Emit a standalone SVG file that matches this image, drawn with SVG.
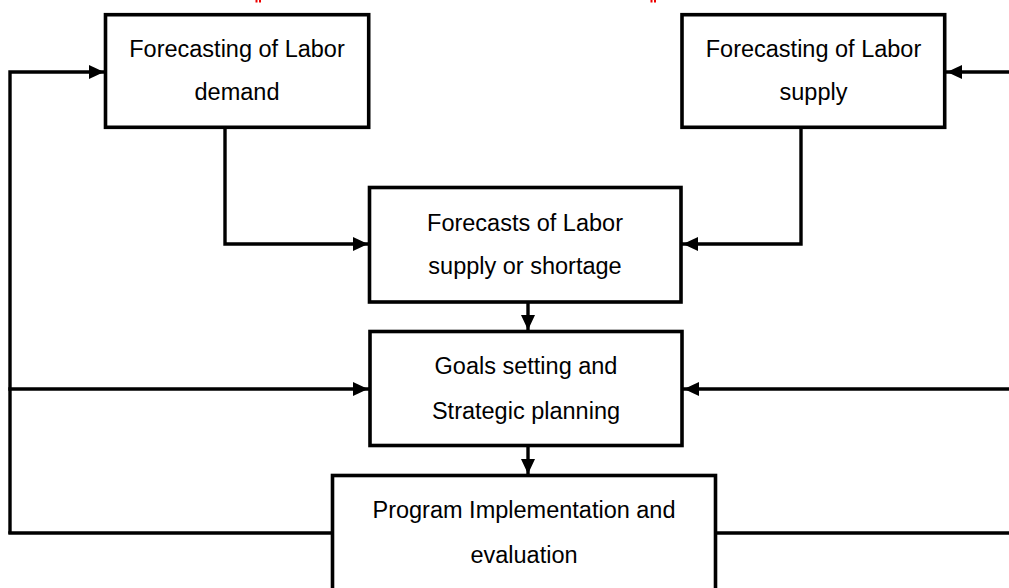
<svg xmlns="http://www.w3.org/2000/svg" width="1009" height="588" viewBox="0 0 1009 588">
<style>
.box{fill:#fff;stroke:#000;stroke-width:3.6}
.ln{fill:none;stroke:#000;stroke-width:3.4;stroke-linejoin:miter;stroke-linecap:square}
.t{font-family:"Liberation Sans",Arial,Helvetica,sans-serif;font-size:23.5px;fill:#000;text-anchor:middle}
</style>
<defs>
<marker id="ah" markerUnits="userSpaceOnUse" markerWidth="15" markerHeight="14" refX="15" refY="7" orient="auto">
<path d="M0,0 L15,7 L0,14 z" fill="#000"/>
</marker>
</defs>
<rect width="1009" height="588" fill="#fff"/>
<g id="red-marks" fill="#e00">
<rect x="255.5" y="0" width="2" height="2.5"/>
<rect x="259" y="0" width="2" height="2.5"/>
<rect x="650.5" y="0" width="2" height="2.5"/>
<rect x="654" y="0" width="2" height="2.5"/>
</g>
<g id="connectors">
<path class="ln" d="M10,532 L10,72 L104,72" marker-end="url(#ah)"/>
<path class="ln" d="M10,389 L368,389" marker-end="url(#ah)"/>
<path class="ln" d="M332,533 L10,533"/>
<path class="ln" d="M1012,72 L947,72" marker-end="url(#ah)"/>
<path class="ln" d="M1012,389 L684,389" marker-end="url(#ah)"/>
<path class="ln" d="M716,533 L1012,533"/>
<path class="ln" d="M225,127 L225,244 L368,244" marker-end="url(#ah)"/>
<path class="ln" d="M801,127 L801,244 L683,244" marker-end="url(#ah)"/>
<path class="ln" d="M528,302 L528,330" marker-end="url(#ah)"/>
<path class="ln" d="M528,446 L528,474" marker-end="url(#ah)"/>
</g>
<g id="demand">
<rect class="box" x="105.5" y="14.7" width="263.2" height="112.6"/>
<text class="t" x="237" y="57">Forecasting of Labor</text>
<text class="t" x="237" y="100">demand</text>
</g>
<g id="supply">
<rect class="box" x="682" y="14.7" width="262.7" height="112.6"/>
<text class="t" x="813.5" y="57">Forecasting of Labor</text>
<text class="t" x="813.5" y="100">supply</text>
</g>
<g id="forecasts">
<rect class="box" x="369.5" y="187.5" width="311.5" height="114.5"/>
<text class="t" x="525" y="230.5">Forecasts of Labor</text>
<text class="t" x="525" y="274">supply or shortage</text>
</g>
<g id="goals">
<rect class="box" x="370" y="331.5" width="312" height="114"/>
<text class="t" x="526" y="374">Goals setting and</text>
<text class="t" x="526" y="418.5">Strategic planning</text>
</g>
<g id="program">
<rect class="box" x="332.5" y="475.5" width="383" height="130"/>
<text class="t" x="524" y="518">Program Implementation and</text>
<text class="t" x="524" y="563">evaluation</text>
</g>
</svg>
